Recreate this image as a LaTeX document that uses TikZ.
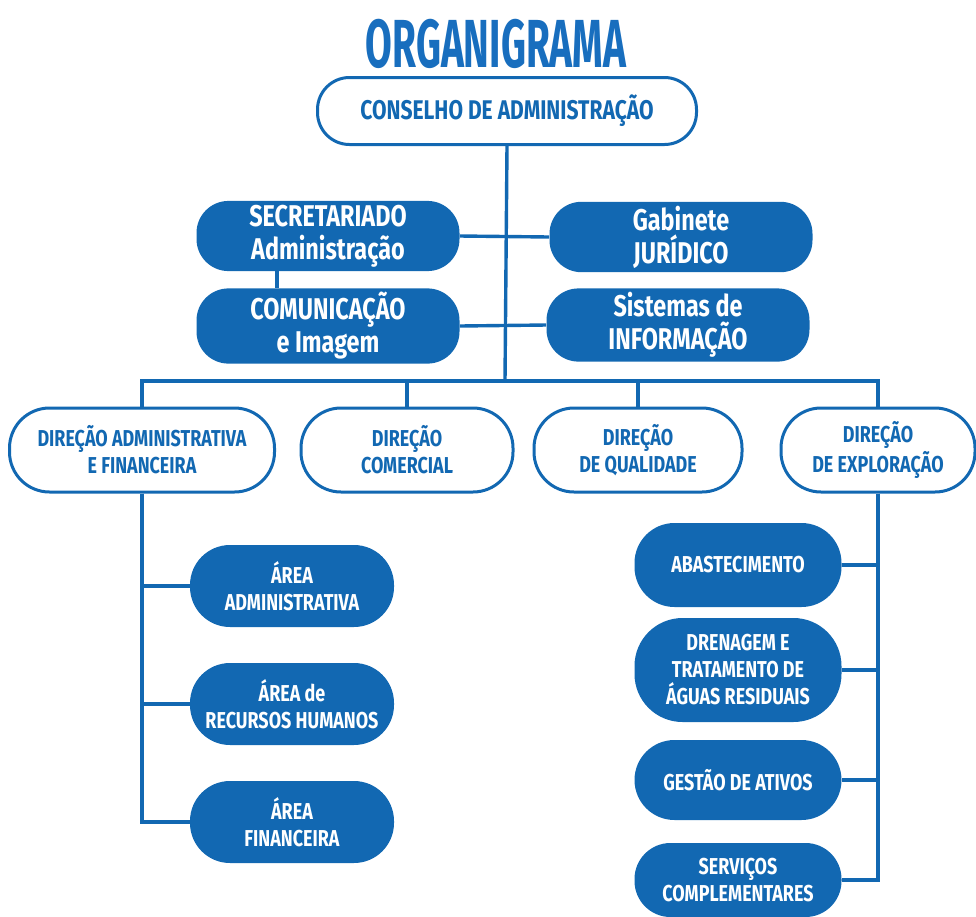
\documentclass[tikz,border=0pt]{standalone}
\usepackage{fontspec}
\setmainfont{Fira Sans}
\newfontfamily\boxfont{Fira Sans}[FakeStretch=0.78]
\newfontfamily\titlefont{Fira Sans}[FakeStretch=0.57]
\newcommand{\topfont}{\boxfont\bfseries\fontsize{15}{16.5}\selectfont}
\newcommand{\midfont}{\boxfont\bfseries\fontsize{13.5}{15}\selectfont}
\newcommand{\lowfont}{\boxfont\bfseries\fontsize{11.5}{13.5}\selectfont}
\definecolor{orgblue}{RGB}{18,104,178}
\definecolor{orgtitle}{RGB}{24,110,190}
\tikzset{
    headbox/.style={rectangle, rounded corners=20pt, draw=orgblue, line width=1.5pt, fill=white,
                    text=orgblue, align=center, inner sep=2pt, font=\lowfont},
    unitbox/.style={rectangle, rounded corners=20pt, fill=orgblue, text=white,
                    align=center, inner sep=2pt, font=\lowfont},
    topbox/.style={unitbox, rounded corners=16pt, font=\topfont, minimum width=131.5pt},
    areabox/.style={unitbox, minimum width=102pt, minimum height=41pt},
    opbox/.style={unitbox, minimum width=103.5pt},
    link/.style={orgblue, line width=1.7pt},
}
\begin{document}
\begin{tikzpicture}[x=0.5pt, y=-0.5pt]
    \useasboundingbox (0,0) rectangle (976,917);

    % Title and board
    \node[font=\titlefont\bfseries\fontsize{34}{34}\selectfont, text=orgtitle, inner sep=0pt] (title) at (496,44) {ORGANIGRAMA};
    \node[headbox, rounded corners=16pt, font=\midfont, minimum width=189.5pt, minimum height=33.5pt] (board) at (507,111) {CONSELHO DE ADMINISTRAÇÃO};

    % Staff units
    \node[topbox, minimum height=33pt] (secret) at (328,236) {SECRETARIADO\\Administração};
    \node[topbox, minimum height=33pt] (legal) at (681,237) {Gabinete\\JURÍDICO};
    \node[topbox, minimum height=36pt] (comm) at (328,326) {COMUNICAÇÃO\\e Imagem};
    \node[topbox, minimum height=35.5pt] (infosys) at (678,325) {Sistemas de\\INFORMAÇÃO};

    % Directorates
    \coordinate (bus) at (505,381);
    \node[headbox, minimum width=132.5pt, minimum height=42pt] (daf) at (142,450) {DIREÇÃO ADMINISTRATIVA\\E FINANCEIRA};
    \node[headbox, minimum width=106pt, minimum height=42pt] (sales) at (407,450) {DIREÇÃO\\COMERCIAL};
    \node[headbox, minimum width=104pt, minimum height=42pt] (quality) at (638,450) {DIREÇÃO\\DE QUALIDADE};
    \node[headbox, minimum width=97pt, minimum height=42pt] (ops) at (878,450) {DIREÇÃO\\DE EXPLORAÇÃO};

    % Areas under DAF
    \node[areabox] (admarea) at (292,586) {ÁREA\\ADMINISTRATIVA};
    \node[areabox] (hrarea) at (292,704) {ÁREA de\\RECURSOS HUMANOS};
    \node[areabox] (finarea) at (292,822) {ÁREA\\FINANCEIRA};

    % Operations units
    \node[opbox, minimum height=42pt] (supply) at (738,565) {ABASTECIMENTO};
    \node[opbox, minimum height=52pt, rounded corners=24pt] (drain) at (738,670) {DRENAGEM E\\TRATAMENTO DE\\ÁGUAS RESIDUAIS};
    \node[opbox, minimum height=40pt] (assets) at (738,780) {GESTÃO DE ATIVOS};
    \node[opbox, minimum height=37pt, rounded corners=18pt] (extra) at (738,880) {SERVIÇOS\\COMPLEMENTARES};

    % Connectors
    \draw[link] (board.south) -- (bus);
    \draw[link] (secret.east) -- (legal.west);
    \draw[link] (comm.east) -- (infosys.west);
    \draw[link] ([xshift=-25.5pt]secret.south) -- ([xshift=-25.5pt]comm.north);
    \draw[link] (daf.north) |- (bus) -| (ops.north);
    \draw[link] (sales.north) -- (sales.north |- bus);
    \draw[link] (quality.north) -- (quality.north |- bus);
    \draw[link] (daf.south) |- (admarea.west);
    \draw[link] (daf.south) |- (hrarea.west);
    \draw[link] (daf.south) |- (finarea.west);
    \draw[link] (ops.south) |- (supply.east);
    \draw[link] (ops.south) |- (drain.east);
    \draw[link] (ops.south) |- (assets.east);
    \draw[link] (ops.south) |- (extra.east);
\end{tikzpicture}
\end{document}
